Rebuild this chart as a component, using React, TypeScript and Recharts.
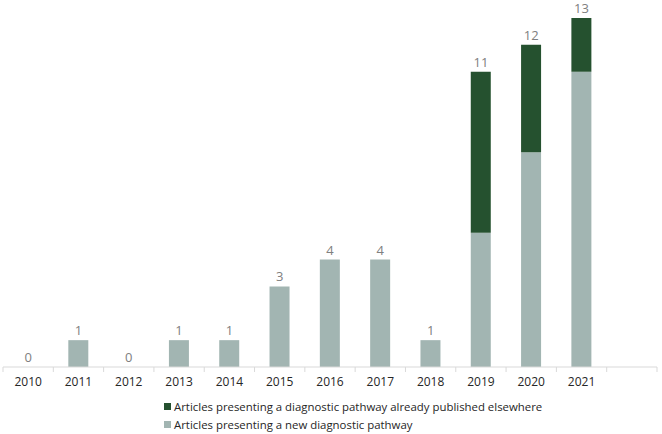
import { Bar, ComposedChart, LabelList, Legend, Line, XAxis, YAxis } from "recharts";

const years = ["2010", "2011", "2012", "2013", "2014", "2015", "2016", "2017", "2018", "2019", "2020", "2021", ""];
const newPathway = [0, 1, 0, 1, 1, 3, 4, 4, 1, 5, 8, 11, null];
const alreadyPublished = [0, 0, 0, 0, 0, 0, 0, 0, 0, 6, 4, 2, null];

const data = years.map((year, i) => ({
  year,
  fresh: newPathway[i],
  already: alreadyPublished[i],
  total: newPathway[i] == null ? null : (newPathway[i] as number) + (alreadyPublished[i] as number),
}));

const FONT = "'Open Sans', sans-serif";
const BAND = 654 / 13;

function YearTick({ x, y, payload }: any) {
  return (
    <g>
      <line x1={x - BAND / 2} x2={x - BAND / 2} y1={y - 8} y2={y - 3} stroke="#d9d9d9" />
      {payload.index === 12 && (
        <line x1={x + BAND / 2} x2={x + BAND / 2} y1={y - 8} y2={y - 3} stroke="#d9d9d9" />
      )}
      <text x={x} y={y + 11} textAnchor="middle" fontSize={12} fill="#262626" fontFamily={FONT}>
        {payload.value}
      </text>
    </g>
  );
}

function LegendBox({ payload }: any) {
  const items = (payload || []).filter((p: any) => p.type !== "none");
  return (
    <div style={{ paddingLeft: 161, fontFamily: FONT, fontSize: 11.4, color: "#262626" }}>
      {items.map((p: any) => (
        <div key={p.value} style={{ display: "flex", alignItems: "center", height: 18 }}>
          <span style={{ width: 7, height: 7, background: p.color, marginRight: 3 }} />
          {p.value}
        </div>
      ))}
    </div>
  );
}

export default function App() {
  return (
    <div style={{ position: "absolute", left: 0, top: 0, background: "#fff" }}>
      <ComposedChart
        width={662}
        height={434}
        data={data}
        margin={{ top: 18, right: 5, left: 3, bottom: 0 }}
        barSize={20}
      >
        <XAxis
          dataKey="year"
          axisLine={{ stroke: "#d9d9d9" }}
          tickLine={false}
          tick={<YearTick />}
          interval={0}
          height={30}
        />
        <YAxis hide domain={[0, 13]} allowDataOverflow />
        <Legend
          verticalAlign="bottom"
          content={<LegendBox />}
          height={37}
          payload={[
            { value: "Articles presenting a diagnostic pathway already published elsewhere", color: "#25512f", type: "square" },
            { value: "Articles presenting a new diagnostic pathway", color: "#a2b5b2", type: "square" },
          ]}
        />
        <Bar
          dataKey="fresh"
          stackId="a"
          fill="#a2b5b2"
          name="Articles presenting a new diagnostic pathway"
          isAnimationActive={false}
        />
        <Bar
          dataKey="already"
          stackId="a"
          fill="#25512f"
          name="Articles presenting a diagnostic pathway already published elsewhere"
          isAnimationActive={false}
        />
        <Line
          dataKey="total"
          stroke="none"
          dot={false}
          activeDot={false}
          legendType="none"
          isAnimationActive={false}
        >
          <LabelList
            dataKey="total"
            position="top"
            offset={5}
            fill="#808080"
            fontSize={13}
            fontFamily={FONT}
          />
        </Line>
      </ComposedChart>
    </div>
  );
}
